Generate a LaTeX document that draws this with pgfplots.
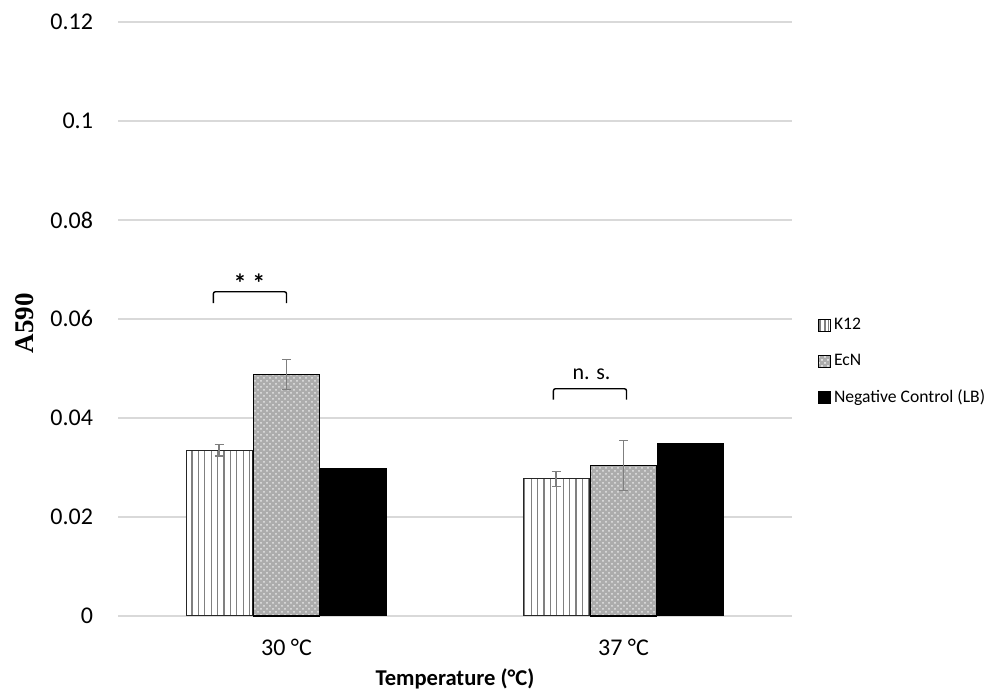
\documentclass[border=0pt]{standalone}
\usepackage{pgfplots}
\pgfplotsset{compat=1.18}
\usepackage{fontspec}
\setmainfont{Carlito}
\newfontfamily\timesfont{Liberation Serif}
\usetikzlibrary{patterns,patterns.meta}
\definecolor{gridgray}{HTML}{D9D9D9}
\definecolor{errgray}{HTML}{7F7F7F}
\begin{document}
\begin{tikzpicture}
\begin{axis}[
  scale only axis,
  width=337pt, height=297pt,
  ymin=0, ymax=0.12,
  ytick={0,0.02,0.04,0.06,0.08,0.1,0.12},
  xmin=-0.5, xmax=1.5,
  xtick={0,1},
  xticklabels={30 °C, 37 °C},
  ybar=0pt,
  bar width=0.196,
  clip=false,
  ymajorgrids,
  grid style={gridgray, line width=0.7pt},
  axis line style={draw=none},
  major tick length=0pt,
  /pgf/number format/assume math mode=true,
  /pgf/number format/fixed,
  /pgf/number format/precision=2,
  yticklabel style={font=\fontsize{12}{14}\selectfont, xshift=-9pt},
  xticklabel style={font=\fontsize{12}{14}\selectfont, yshift=-8pt},
  xlabel={Temperature (°C)},
  xlabel style={font=\fontsize{11.3}{13}\selectfont\bfseries, at={(rel axis cs:0.5,-0.106)}, anchor=center, inner sep=0pt},
  ylabel={A590},
  ylabel style={font=\fontsize{13.5}{15}\selectfont\timesfont\bfseries, at={(rel axis cs:-0.139,0.493)}, anchor=center, rotate=0, inner sep=0pt},
  legend style={draw=none, fill=none, at={(rel axis cs:1.038,0.428)}, anchor=west,
    font=\fontsize{8.8}{11}\selectfont, row sep=7.5pt, inner sep=0pt,
    nodes={inner sep=1.5pt}},
  legend cell align=left,
  error bars/error bar style={errgray, line width=0.7pt},
  error bars/error mark options={rotate=90, mark size=2.2pt, errgray, line width=0.7pt},
]
\addplot[bar shift=-0.2, draw=black!85, line width=0.5pt, fill=white,
  postaction={pattern={Lines[angle=90, distance=3.2pt, line width=0.6pt]}, pattern color=gray},
  legend image code/.code={\draw[black, line width=0.4pt, fill=white, postaction={pattern={Lines[angle=90, distance=2pt, line width=0.5pt]}, pattern color=gray}] (0pt,-3pt) rectangle (6pt,3pt);},
  error bars/.cd, y dir=both, y explicit]
  coordinates {(0,0.0335) +- (0,0.0012) (1,0.0277) +- (0,0.0015)};
\addlegendentry{K12}
\addplot[bar shift=0, draw=black, line width=0.8pt, fill=gray!65,
  postaction={pattern=crosshatch dots, pattern color=gray!20},
  legend image code/.code={\draw[black, line width=0.4pt, fill=gray!65, postaction={pattern=crosshatch dots, pattern color=gray!20}] (0pt,-3pt) rectangle (6pt,3pt);},
  error bars/.cd, y dir=both, y explicit]
  coordinates {(0,0.0488) +- (0,0.0030) (1,0.0304) +- (0,0.0050)};
\addlegendentry{EcN}
\addplot[bar shift=0.2, draw=black, line width=0.5pt, fill=black,
  legend image code/.code={\draw[black, line width=0.4pt, fill=black] (0pt,-3pt) rectangle (6pt,3pt);}]
  coordinates {(0,0.0298) (1,0.0348)};
\addlegendentry{Negative Control (LB)}
% significance brackets
\draw[black, line width=0.7pt, rounded corners=1pt] (axis cs:-0.217,0.0632) -- (axis cs:-0.217,0.0655) -- (axis cs:0,0.0655) -- (axis cs:0,0.0632);
\node[font=\fontsize{13}{14}\selectfont\bfseries] at (axis cs:-0.11,0.0672) {* *};
\draw[black, line width=0.7pt, rounded corners=1pt] (axis cs:0.792,0.0437) -- (axis cs:0.792,0.0459) -- (axis cs:1.009,0.0459) -- (axis cs:1.009,0.0437);
\node[font=\fontsize{11}{12}\selectfont] at (axis cs:0.905,0.0488) {n. s.};
\coordinate (bbll) at (rel axis cs:-0.1751,-0.1246);
\coordinate (bbur) at (rel axis cs:1.2893,1.0370);
\end{axis}
\pgfresetboundingbox
\path (bbll) rectangle (bbur);
\end{tikzpicture}
\end{document}
